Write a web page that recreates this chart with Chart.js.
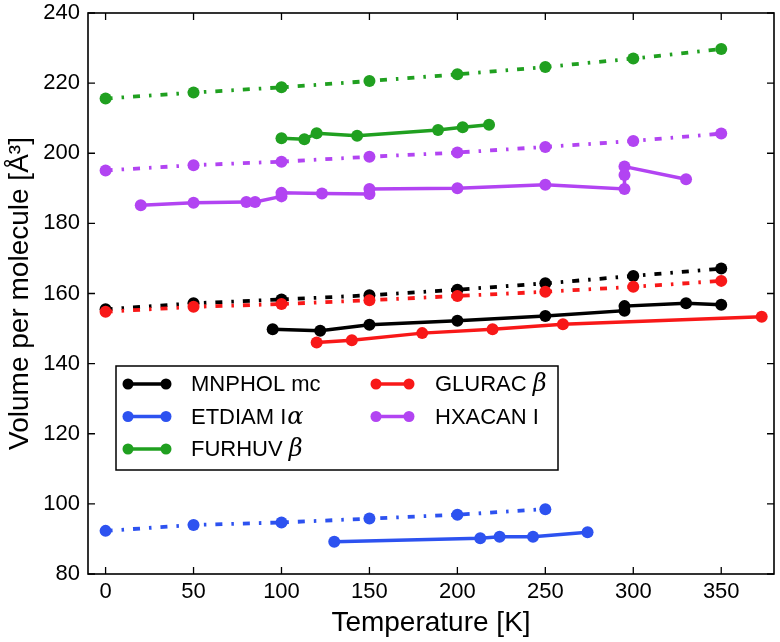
<!DOCTYPE html>
<html><head><meta charset="utf-8">
<script src="https://cdn.jsdelivr.net/npm/chart.js@4/dist/chart.umd.min.js"></script>
<style>html,body{margin:0;padding:0;background:#fff}#wrap{width:780px;height:642px;position:relative}</style>
</head><body><div id="wrap"><canvas id="c"></canvas></div>
<script>
// ---- data ----
const SERIES_BASE  = ['MNPHOL mc', 'ETDIAM I', 'FURHUV ', 'GLURAC ', 'HXACAN I'];
const SERIES_GREEK = ['', 'α', 'β', 'β', ''];
const SERIES_COLORS = ['#000000', '#2d52f0', '#20a020', '#f81818', '#b244f2'];

// dash-dot (reference) curves
const MNPHOL_DOT_T = [0, 50, 100, 150, 200, 250, 300, 350];
const MNPHOL_DOT_V = [155.5, 157.2, 158.3, 159.5, 161.1, 162.9, 165.0, 167.1];
const ETDIAM_DOT_T = [0, 50, 100, 150, 200, 250];
const ETDIAM_DOT_V = [92.3, 94.0, 94.7, 95.8, 96.9, 98.5];
const FURHUV_DOT_T = [0, 50, 100, 150, 200, 250, 300, 350];
const FURHUV_DOT_V = [215.6, 217.3, 218.8, 220.6, 222.5, 224.6, 227.0, 229.7];
const GLURAC_DOT_T = [0, 50, 100, 150, 200, 250, 300, 350];
const GLURAC_DOT_V = [154.8, 156.2, 157.0, 158.1, 159.3, 160.5, 161.9, 163.6];
const HXACAN_DOT_T = [0, 50, 100, 150, 200, 250, 300, 350];
const HXACAN_DOT_V = [195.1, 196.6, 197.6, 199.0, 200.2, 201.8, 203.5, 205.6];

// solid (experimental) curves
const MNPHOL_T = [95, 122, 150, 200, 250, 295, 295, 330, 350];
const MNPHOL_V = [149.8, 149.4, 151.1, 152.2, 153.6, 155.1, 156.4, 157.2, 156.8];
const ETDIAM_T = [130, 213, 224, 243, 274];
const ETDIAM_V = [89.2, 90.2, 90.6, 90.6, 91.9];
const FURHUV_T = [100, 113, 120, 143, 189, 203, 218];
const FURHUV_V = [204.3, 204.0, 205.7, 205.0, 206.6, 207.4, 208.1];
const GLURAC_T = [120, 140, 180, 220, 260, 373];
const GLURAC_V = [146.0, 146.7, 148.7, 149.8, 151.2, 153.4];
const HXACAN_T = [20, 50, 80, 85, 100, 100, 123, 150, 150, 200, 250, 295, 295, 295, 330];
const HXACAN_V = [185.2, 185.9, 186.1, 186.1, 187.7, 188.7, 188.5, 188.4, 189.8, 190.0, 191.0, 189.8, 193.8, 196.2, 192.6];

const X_TICKS = [0, 50, 100, 150, 200, 250, 300, 350];
const Y_TICKS = [80, 100, 120, 140, 160, 180, 200, 220, 240];
const X_TITLE = 'Temperature [K]';
const Y_TITLE = 'Volume per molecule [Å³]';

// ---- build ----
const pts = (t, v) => t.map((x, i) => ({x: x, y: v[i]}));
const SOLID = [[MNPHOL_T, MNPHOL_V], [ETDIAM_T, ETDIAM_V], [FURHUV_T, FURHUV_V], [GLURAC_T, GLURAC_V], [HXACAN_T, HXACAN_V]];
const DOT = [[MNPHOL_DOT_T, MNPHOL_DOT_V], [ETDIAM_DOT_T, ETDIAM_DOT_V], [FURHUV_DOT_T, FURHUV_DOT_V], [GLURAC_DOT_T, GLURAC_DOT_V], [HXACAN_DOT_T, HXACAN_DOT_V]];

const datasets = [];
// draw order: first dataset ends up on top
[3, 0, 1, 2, 4].forEach(i => {
  datasets.push({
    label: SERIES_BASE[i] + SERIES_GREEK[i] + ' (solid)',
    data: pts(SOLID[i][0], SOLID[i][1]),
    borderColor: SERIES_COLORS[i], backgroundColor: SERIES_COLORS[i],
    borderWidth: 3.5, pointRadius: 6, pointBorderWidth: 0, pointBackgroundColor: SERIES_COLORS[i],
    tension: 0, clip: false
  });
});
[3, 0, 1, 2, 4].forEach(i => {
  datasets.push({
    label: SERIES_BASE[i] + SERIES_GREEK[i] + ' (calc)',
    data: pts(DOT[i][0], DOT[i][1]),
    borderColor: SERIES_COLORS[i], backgroundColor: SERIES_COLORS[i],
    borderWidth: 3.8, borderDash: [7, 9, 2.5, 9], pointRadius: 6, pointBorderWidth: 0,
    pointBackgroundColor: SERIES_COLORS[i], tension: 0, clip: false
  });
});

const FONT = "'Liberation Sans', Arial, Helvetica, sans-serif";

const framePlugin = {
  id: 'frame',
  afterDraw(chart) {
    const {ctx, chartArea: a, scales: {x, y}} = chart;
    ctx.save();
    ctx.strokeStyle = '#000';
    ctx.lineWidth = 1.6;
    ctx.strokeRect(a.left, a.top, a.right - a.left, a.bottom - a.top);
    const L = 7;
    ctx.lineWidth = 1.3;
    ctx.beginPath();
    X_TICKS.forEach(v => {
      const px = x.getPixelForValue(v);
      ctx.moveTo(px, a.bottom); ctx.lineTo(px, a.bottom - L);
      ctx.moveTo(px, a.top); ctx.lineTo(px, a.top + L);
    });
    Y_TICKS.forEach(v => {
      const py = y.getPixelForValue(v);
      ctx.moveTo(a.left, py); ctx.lineTo(a.left + L, py);
      ctx.moveTo(a.right, py); ctx.lineTo(a.right - L, py);
    });
    ctx.stroke();

    // legend
    const bx = 116, by = 366, bw = 442, bh = 104;
    ctx.fillStyle = '#fff';
    ctx.fillRect(bx, by, bw, bh);
    ctx.lineWidth = 1.5;
    ctx.strokeRect(bx, by, bw, bh);
    const rows = [384, 416.5, 449];
    const cols = [{l0: 128, l1: 166, tx: 191}, {l0: 376, l1: 409, tx: 435}];
    [0, 1, 2, 3, 4].forEach((i, k) => {
      const c = cols[Math.floor(k / 3)], ry = rows[k % 3];
      const col = SERIES_COLORS[i];
      ctx.strokeStyle = col; ctx.fillStyle = col; ctx.lineWidth = 3.5; ctx.setLineDash([]);
      ctx.beginPath(); ctx.moveTo(c.l0, ry); ctx.lineTo(c.l1, ry); ctx.stroke();
      [c.l0, c.l1].forEach(px => { ctx.beginPath(); ctx.arc(px, ry, 5.5, 0, Math.PI * 2); ctx.fill(); });
      ctx.fillStyle = '#000';
      ctx.textBaseline = 'middle'; ctx.textAlign = 'left';
      ctx.font = '22px ' + FONT;
      ctx.fillText(SERIES_BASE[i], c.tx, ry + 1);
      if (SERIES_GREEK[i]) {
        const w = ctx.measureText(SERIES_BASE[i]).width;
        ctx.font = "italic 24px 'DejaVu Serif', 'Liberation Serif', serif";
        ctx.fillText(SERIES_GREEK[i], c.tx + w + (SERIES_BASE[i].endsWith(' ') ? 0 : 1), ry + 1);
      }
    });
    ctx.restore();
  }
};

const noPad = s => { s.paddingTop = 0; s.paddingBottom = 0; s.paddingLeft = 0; s.paddingRight = 0; };

new Chart(document.getElementById('c'), {
  type: 'line',
  data: {datasets: datasets},
  options: {
    responsive: true, maintainAspectRatio: false, animation: false,
    layout: {padding: {left: 0, right: 4, top: 13, bottom: 0}},
    plugins: {legend: {display: false}, tooltip: {enabled: false}},
    scales: {
      x: {
        type: 'linear', position: 'bottom', min: -10, max: 380,
        grid: {display: false, drawTicks: false}, border: {display: false},
        afterBuildTicks: s => { s.ticks = X_TICKS.map(v => ({value: v})); },
        afterFit: s => { s.height = 68; noPad(s); },
        ticks: {color: '#000', font: {family: FONT, size: 22}, padding: 5, maxRotation: 0, autoSkip: false},
        title: {display: true, text: X_TITLE, color: '#000', font: {family: FONT, size: 28}, padding: {top: 0, bottom: 2}}
      },
      y: {
        type: 'linear', min: 80, max: 240,
        grid: {display: false, drawTicks: false}, border: {display: false},
        afterBuildTicks: s => { s.ticks = Y_TICKS.map(v => ({value: v})); },
        afterFit: s => { s.width = 88; noPad(s); },
        ticks: {color: '#000', font: {family: FONT, size: 22}, padding: 8, autoSkip: false},
        title: {display: true, text: Y_TITLE, color: '#000', font: {family: FONT, size: 28}, padding: {top: 3, bottom: 0}}
      }
    }
  },
  plugins: [framePlugin]
});
</script></body></html>
